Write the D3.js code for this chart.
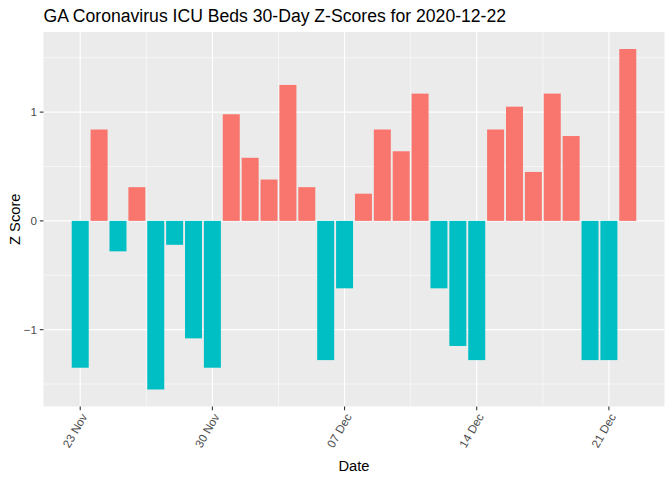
<!DOCTYPE html>
<html>
<head>
<meta charset="utf-8">
<script src="https://cdn.jsdelivr.net/npm/d3@7"></script>
<style>
  body { margin: 0; background: #fff; }
  text { font-family: "Liberation Sans", Arial, sans-serif; }
</style>
</head>
<body>
<div id="chart"></div>
<script>
// dates (one bar per day) and z-score values
const dates = [
  "2020-11-23", "2020-11-24", "2020-11-25", "2020-11-26", "2020-11-27", "2020-11-28",
  "2020-11-29", "2020-11-30", "2020-12-01", "2020-12-02", "2020-12-03", "2020-12-04",
  "2020-12-05", "2020-12-06", "2020-12-07", "2020-12-08", "2020-12-09", "2020-12-10",
  "2020-12-11", "2020-12-12", "2020-12-13", "2020-12-14", "2020-12-15", "2020-12-16",
  "2020-12-17", "2020-12-18", "2020-12-19", "2020-12-20", "2020-12-21", "2020-12-22"
];
const zScores = [
  -1.35, 0.84, -0.28, 0.31, -1.55, -0.22,
  -1.08, -1.35, 0.98, 0.58, 0.38, 1.25,
  0.31, -1.28, -0.62, 0.25, 0.84, 0.64,
  1.17, -0.62, -1.15, -1.28, 0.84, 1.05,
  0.45, 1.17, 0.78, -1.28, -1.28, 1.58
];
const xTicks = ["2020-11-23", "2020-11-30", "2020-12-07", "2020-12-14", "2020-12-21"];
const yTicks = [-1, 0, 1];
const yMinor = [-1.5, -0.5, 0.5, 1.5];

const parse = d3.utcParse("%Y-%m-%d");
const data = dates.map((d, i) => ({ date: parse(d), value: zScores[i] }));

const width = 672, height = 480;
const marginLeft = 43.5, marginRight = 7.5, marginTop = 32, marginBottom = 73.5;
const DAY = 864e5;

// ggplot-like expansion: 5% of data range including bar half-widths
const barHalf = 0.45 * DAY;
const xLo = +data[0].date - barHalf, xHi = +data[data.length - 1].date + barHalf;
const xPad = (xHi - xLo) * 0.05;
const x = d3.scaleUtc()
  .domain([new Date(xLo - xPad), new Date(xHi + xPad)])
  .range([marginLeft, width - marginRight]);

const yLo = d3.min(zScores), yHi = d3.max(zScores);
const yPad = (yHi - yLo) * 0.05;
const y = d3.scaleLinear()
  .domain([yLo - yPad, yHi + yPad])
  .range([height - marginBottom, marginTop]);

const svg = d3.create("svg")
  .attr("width", width)
  .attr("height", height)
  .attr("viewBox", [0, 0, width, height]);

// panel background
svg.append("rect")
  .attr("x", marginLeft).attr("y", marginTop)
  .attr("width", width - marginLeft - marginRight)
  .attr("height", height - marginTop - marginBottom)
  .attr("fill", "#EBEBEB");

// minor gridlines
const xMinor = xTicks.slice(0, -1).map(d => new Date(+parse(d) + 3.5 * DAY));
xMinor.unshift(new Date(+parse(xTicks[0]) - 3.5 * DAY));
xMinor.push(new Date(+parse(xTicks[xTicks.length - 1]) + 3.5 * DAY));
svg.append("g")
  .attr("stroke", "#fff").attr("stroke-width", 0.55)
  .call(g => g.selectAll("line.ym").data(yMinor).join("line")
    .attr("x1", marginLeft).attr("x2", width - marginRight)
    .attr("y1", d => y(d)).attr("y2", d => y(d)))
  .call(g => g.selectAll("line.xm").data(xMinor.filter(d => x(d) > marginLeft && x(d) < width - marginRight)).join("line")
    .attr("y1", marginTop).attr("y2", height - marginBottom)
    .attr("x1", d => x(d)).attr("x2", d => x(d)));

// major gridlines
svg.append("g")
  .attr("stroke", "#fff").attr("stroke-width", 1.1)
  .call(g => g.selectAll("line.y").data(yTicks).join("line")
    .attr("x1", marginLeft).attr("x2", width - marginRight)
    .attr("y1", d => y(d)).attr("y2", d => y(d)))
  .call(g => g.selectAll("line.x").data(xTicks).join("line")
    .attr("y1", marginTop).attr("y2", height - marginBottom)
    .attr("x1", d => x(parse(d))).attr("x2", d => x(parse(d))));

// bars
svg.append("g")
  .selectAll("rect")
  .data(data)
  .join("rect")
  .attr("x", d => x(new Date(+d.date - barHalf)))
  .attr("width", d => x(new Date(+d.date + barHalf)) - x(new Date(+d.date - barHalf)))
  .attr("y", d => y(Math.max(0, d.value)))
  .attr("height", d => Math.abs(y(d.value) - y(0)))
  .attr("fill", d => d.value > 0 ? "#F8766D" : "#00BFC4");

// y axis
const yAxis = svg.append("g");
yAxis.selectAll("line").data(yTicks).join("line")
  .attr("x1", marginLeft - 3.7).attr("x2", marginLeft)
  .attr("y1", d => y(d)).attr("y2", d => y(d))
  .attr("stroke", "#333").attr("stroke-width", 1.1);
yAxis.selectAll("text").data(yTicks).join("text")
  .attr("x", marginLeft - 6.5).attr("y", d => y(d))
  .attr("dy", "0.35em")
  .attr("text-anchor", "end")
  .attr("font-size", 11.7)
  .attr("fill", "#4D4D4D")
  .text(d => d3.format("d")(d));

// x axis
const fmt = d3.utcFormat("%d %b");
const xAxis = svg.append("g");
xAxis.selectAll("line").data(xTicks).join("line")
  .attr("y1", height - marginBottom).attr("y2", height - marginBottom + 3.7)
  .attr("x1", d => x(parse(d))).attr("x2", d => x(parse(d)))
  .attr("stroke", "#333").attr("stroke-width", 1.1);
xAxis.selectAll("text").data(xTicks).join("text")
  .attr("transform", d => `translate(${x(parse(d)) + 4},${height - marginBottom + 8}) rotate(-60)`)
  .attr("text-anchor", "end")
  .attr("dy", "0.35em")
  .attr("font-size", 11.7)
  .attr("fill", "#4D4D4D")
  .text(d => fmt(parse(d)));

// axis titles
svg.append("text")
  .attr("x", (marginLeft + width - marginRight) / 2)
  .attr("y", 471)
  .attr("text-anchor", "middle")
  .attr("font-size", 14.7)
  .attr("fill", "#000")
  .text("Date");
svg.append("text")
  .attr("transform", `translate(20,${(marginTop + height - marginBottom) / 2}) rotate(-90)`)
  .attr("text-anchor", "middle")
  .attr("font-size", 14.7)
  .attr("fill", "#000")
  .text("Z Score");

// title
svg.append("text")
  .attr("x", marginLeft)
  .attr("y", 22)
  .attr("font-size", 17.6)
  .attr("fill", "#000")
  .text("GA Coronavirus ICU Beds 30-Day Z-Scores for 2020-12-22");

document.getElementById("chart").appendChild(svg.node());
</script>
</body>
</html>
